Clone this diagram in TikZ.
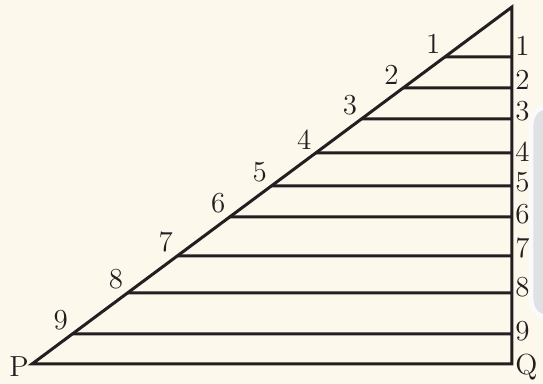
\documentclass[tikz,border=0pt]{standalone}
\usepackage{tikz}
\usetikzlibrary{calc}
\definecolor{paper}{HTML}{FDF8EC}
\definecolor{ink}{HTML}{231F20}
\definecolor{tabgrey}{HTML}{E0E1E3}

\begin{document}
\begin{tikzpicture}[x=0.5pt, y=-0.5pt,
  every node/.style={font=\fontsize{14.5}{16}\selectfont, text=ink, inner sep=1pt},
  edgeline/.style={draw=ink, line width=1.5pt, line join=miter},
  rungline/.style={draw=ink, line width=1.5pt}
]
  % page background
  \fill[paper] (0,0) rectangle (543,384);
  \useasboundingbox (0,0) rectangle (543,384);

  % grey side tab of the page
  \begin{scope}
    \clip (0,0) rectangle (543,384);
    \filldraw[fill=tabgrey, draw=white!85!tabgrey, line width=2.5pt, rounded corners=9pt]
      (531,106) rectangle (575,318);
  \end{scope}

  % triangle corners
  \coordinate (P) at (32,364);
  \coordinate (Q) at (512,364);
  \coordinate (A) at (512,7);

  % rungs: number / height / height of right label
  \foreach \n/\y/\r in {1/57/46, 2/88/80, 3/119/111, 4/153/152, 5/186/182,
                        6/217/214, 7/256/248, 8/293/287, 9/334/331}{
    \coordinate (l\n) at ($(P)!{(364-\y)/357}!(A)$);
    \coordinate (r\n) at (512,\y);
    \draw[rungline] (l\n) -- (r\n);
    \node[anchor=south east] (ln\n) at ($(l\n)+(-2,-1)$) {\n};
    \node[anchor=west] (rn\n) at (513,\r) {\n};
  }

  % triangle
  \draw[edgeline] (P) -- (A) -- (Q) -- cycle;
  \node[anchor=east] (pl) at (31,367) {P};
  \node[anchor=west] (ql) at (513,367) {Q};
\end{tikzpicture}
\end{document}
